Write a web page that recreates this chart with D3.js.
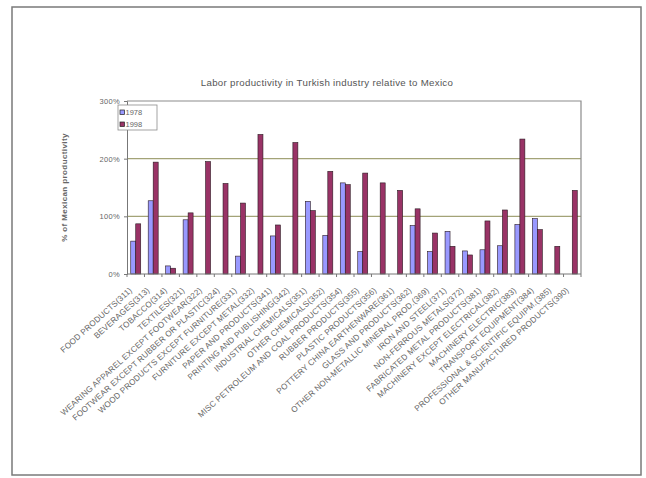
<!DOCTYPE html>
<html>
<head>
<meta charset="utf-8">
<script src="https://cdn.jsdelivr.net/npm/d3@7"></script>
<style>
  html, body { margin: 0; padding: 0; background: #fff; }
  svg { display: block; font-family: "Liberation Sans", Arial, sans-serif; }
</style>
</head>
<body>
<svg id="chart" width="646" height="478"></svg>
<script>
// ISIC industry codes, Turkish labour productivity as % of Mexico's
const categories = [
  "FOOD PRODUCTS(311)", "BEVERAGES(313)", "TOBACCO(314)", "TEXTILES(321)",
  "WEARING APPAREL EXCEPT FOOTWEAR(322)", "FOOTWEAR EXCEPT RUBBER OR PLASTIC(324)",
  "WOOD PRODUCTS EXCEPT FURNITURE(331)", "FURNITURE EXCEPT METAL(332)",
  "PAPER AND PRODUCTS(341)", "PRINTING AND PUBLISHING(342)",
  "INDUSTRIAL CHEMICALS(351)", "OTHER CHEMICALS(352)",
  "MISC PETROLEUM AND COAL PRODUCTS(354)", "RUBBER PRODUCTS(355)",
  "PLASTIC PRODUCTS(356)", "POTTERY CHINA EARTHENWARE(361)",
  "GLASS AND PRODUCTS(362)", "OTHER NON-METALLIC MINERAL PROD.(369)",
  "IRON AND STEEL(371)", "NON-FERROUS METALS(372)",
  "FABRICATED METAL PRODUCTS(381)", "MACHINERY EXCEPT ELECTRICAL(382)",
  "MACHINERY ELECTRIC(383)", "TRANSPORT EQUIPMENT(384)",
  "PROFESSIONAL & SCIENTIFIC EQUIPM.(385)", "OTHER MANUFACTURED PRODUCTS(390)"
];
const seriesNames = ["1978", "1998"];
const values1978 = [57, 127, 14, 94, null, null, 31, null, 66, null, 126, 67,
  158, 39, null, null, 84, 39, 74, 40, 42, 49, 86, 96, null, null];
const values1998 = [87, 194, 10, 106, 195, 157, 123, 242, 85, 228, 110, 178,
  155, 175, 158, 145, 113, 71, 48, 33, 92, 111, 234, 77, 48, 145];
const yTicks = [0, 100, 200, 300];

const title = "Labor productivity in Turkish industry relative to Mexico";
const yTitle = "% of Mexican productivity";
const colors = { "1978": "#9999ff", "1998": "#993366" };

const svg = d3.select("#chart");
const plot = { left: 127, right: 581, top: 101, bottom: 274 };

// outer chart frame
svg.append("rect")
  .attr("x", 12).attr("y", 7).attr("width", 629).attr("height", 468)
  .attr("fill", "#fff").attr("stroke", "#7a7a7a").attr("stroke-width", 1.5);

const x0 = d3.scaleBand()
  .domain(categories)
  .range([plot.left, plot.right])
  .paddingInner(1.5 / 3.5)
  .paddingOuter(0.75 / 3.5);
const x1 = d3.scaleBand().domain(seriesNames).range([0, x0.bandwidth()]);
const y = d3.scaleLinear().domain([0, 300]).range([plot.bottom, plot.top]);

// gridlines
svg.append("g")
  .selectAll("line")
  .data(yTicks.filter(t => t > 0 && t < 300))
  .join("line")
  .attr("x1", plot.left).attr("x2", plot.right)
  .attr("y1", d => y(d)).attr("y2", d => y(d))
  .attr("stroke", "#a3a377").attr("stroke-width", 1.2);

// plot area top and right borders
svg.append("path")
  .attr("d", `M${plot.left},${y(300)}H${plot.right}V${plot.bottom}`)
  .attr("fill", "none").attr("stroke", "#8c8c8c").attr("stroke-width", 1.2);

// bars
const rows = categories.map((c, i) => ({ cat: c, vals: [
  { s: "1978", v: values1978[i] }, { s: "1998", v: values1998[i] }] }));
const groups = svg.append("g").selectAll("g")
  .data(rows).join("g")
  .attr("transform", d => `translate(${x0(d.cat)},0)`);
groups.selectAll("rect")
  .data(d => d.vals.filter(e => e.v != null))
  .join("rect")
  .attr("x", d => x1(d.s))
  .attr("y", d => y(d.v))
  .attr("width", x1.bandwidth())
  .attr("height", d => y(0) - y(d.v))
  .attr("fill", d => colors[d.s])
  .attr("stroke", "#2a1a22").attr("stroke-width", 0.6);

// y axis
const yAxis = d3.axisLeft(y).tickValues(yTicks).tickFormat(d => d + "%").tickSize(3);
const gy = svg.append("g").attr("transform", `translate(${plot.left},0)`).call(yAxis);
gy.select(".domain").attr("stroke", "#777");
gy.selectAll(".tick line").attr("stroke", "#777");
gy.selectAll("text").attr("fill", "#666").attr("font-size", 7.5)
  .attr("letter-spacing", 0.3).attr("dx", -1);

// x axis with category ticks between groups
const gx = svg.append("g").attr("transform", `translate(0,${plot.bottom})`);
gx.append("line").attr("x1", plot.left).attr("x2", plot.right)
  .attr("stroke", "#777").attr("stroke-width", 1);
const step = x0.step();
gx.selectAll("line.tk")
  .data(d3.range(categories.length + 1))
  .join("line").attr("class", "tk")
  .attr("x1", i => plot.left + i * step).attr("x2", i => plot.left + i * step)
  .attr("y1", 0).attr("y2", 3).attr("stroke", "#777");
gx.selectAll("text")
  .data(categories)
  .join("text")
  .attr("transform", d => `translate(${x0(d) + x0.bandwidth() / 2 - 3},17) rotate(-42)`)
  .attr("text-anchor", "end")
  .attr("font-size", 8.2)
  .attr("letter-spacing", 0.15)
  .attr("fill", "#666")
  .text(d => d);

// titles
svg.append("text")
  .attr("x", 327).attr("y", 86)
  .attr("text-anchor", "middle")
  .attr("font-size", 9.7).attr("letter-spacing", 0.3).attr("fill", "#555")
  .text(title);
svg.append("text")
  .attr("transform", `translate(67,${(plot.top + plot.bottom) / 2}) rotate(-90)`)
  .attr("text-anchor", "middle")
  .attr("font-size", 8).attr("font-weight", "bold").attr("letter-spacing", 0.4)
  .attr("fill", "#666")
  .text(yTitle);

// legend
const lg = svg.append("g").attr("transform", "translate(118,105)");
lg.append("rect").attr("width", 39).attr("height", 25)
  .attr("fill", "#fff").attr("stroke", "#8c8c8c").attr("stroke-width", 0.8);
const items = lg.selectAll("g").data(seriesNames).join("g")
  .attr("transform", (d, i) => `translate(2,${10 + i * 12})`);
items.append("rect").attr("x", 0).attr("y", -5).attr("width", 4.5).attr("height", 4.5)
  .attr("fill", d => colors[d]).attr("stroke", "#222").attr("stroke-width", 0.7);
items.append("text").attr("x", 5.5).attr("y", 0)
  .attr("font-size", 7.5).attr("fill", "#666").text(d => d);
</script>
</body>
</html>
